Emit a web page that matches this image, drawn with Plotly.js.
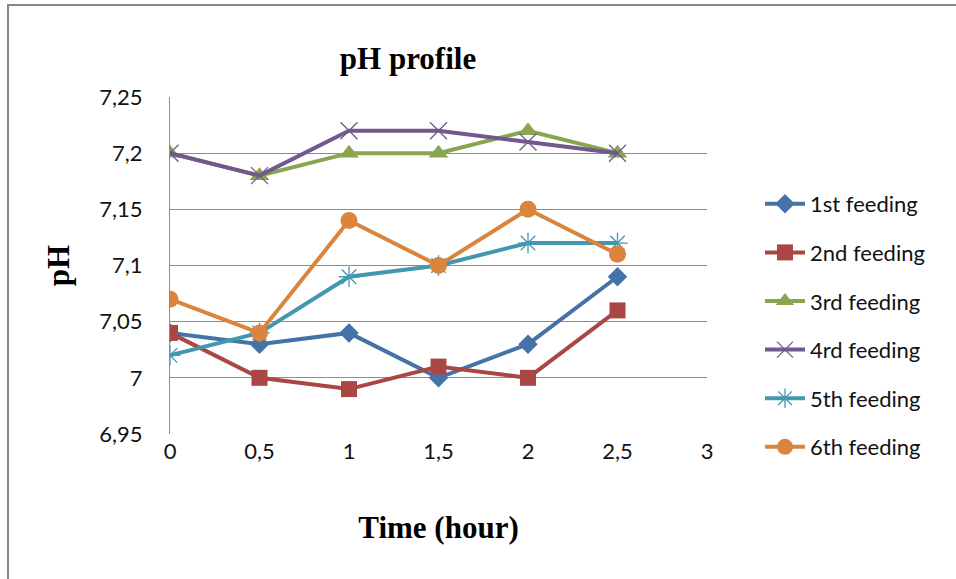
<!DOCTYPE html>
<html>
<head>
<meta charset="utf-8">
<script src="https://cdn.plot.ly/plotly-3.0.1.min.js"></script>
<style>
html,body{margin:0;padding:0;background:#fff;}
#chart{width:956px;height:579px;}
</style>
</head>
<body>
<div id="chart"></div>
<script>
const timeHours = [0, 0.5, 1, 1.5, 2, 2.5];
const feeding1 = [7.04, 7.03, 7.04, 7.00, 7.03, 7.09];
const feeding2 = [7.04, 7.00, 6.99, 7.01, 7.00, 7.06];
const feeding3 = [7.20, 7.18, 7.20, 7.20, 7.22, 7.20];
const feeding4 = [7.20, 7.18, 7.22, 7.22, 7.21, 7.20];
const feeding5 = [7.02, 7.04, 7.09, 7.10, 7.12, 7.12];
const feeding6 = [7.07, 7.04, 7.14, 7.10, 7.15, 7.11];
const seriesNames = ["1st feeding", "2nd feeding", "3rd feeding", "4rd feeding", "5th feeding", "6th feeding"];
const yTickVals = [6.95, 7, 7.05, 7.1, 7.15, 7.2, 7.25];
const yTickText = ["6,95", "7", "7,05", "7,1", "7,15", "7,2", "7,25"];
const xTickVals = [0, 0.5, 1, 1.5, 2, 2.5, 3];
const xTickText = ["0", "0,5", "1", "1,5", "2", "2,5", "3"];

const allSeries = [feeding1, feeding2, feeding3, feeding4, feeding5, feeding6];
const colors = ["#4572A7", "#AA4643", "#89A54E", "#71588F", "#4198AF", "#DB843D"];
const symbols = ["diamond", "square", "triangle-up", "x-thin-open", "asterisk-open", "circle"];
const sizes = [15, 16, 17, 17, 17, 17];

const traces = allSeries.map((ys, i) => ({
  x: timeHours, y: ys, name: seriesNames[i], type: "scatter", mode: "lines+markers",
  legendgroup: "g" + i,
  line: {color: colors[i], width: 4},
  marker: {symbol: symbols[i], size: sizes[i], color: colors[i],
           line: {color: colors[i], width: (i === 3 || i === 4) ? 1.3 : 0}}
}));

const W = 956, H = 579;
const m = {l: 170, r: 249, t: 97, b: 145};
const pw = W - m.l - m.r, ph = H - m.t - m.b;
const px2x = p => (p - m.l) / pw;
const py2y = p => (H - m.b - p) / ph;
const serif = "'Liberation Serif', 'Times New Roman', serif";
const sans = "Lato, 'Open Sans', sans-serif";

const layout = {
  width: W, height: H,
  margin: m,
  paper_bgcolor: "#fff", plot_bgcolor: "#fff",
  font: {family: sans, size: 22, color: "#111"},
  title: {text: "<b>pH profile</b>", font: {family: serif, size: 31, color: "#000"},
          x: 408 / W, xanchor: "center", y: 1 - 58 / H, yanchor: "middle"},
  xaxis: {
    range: [0, 3], tickvals: xTickVals, ticktext: xTickText,
    showgrid: false, zeroline: false, showline: false, ticks: "", ticklabelstandoff: 2,
    tickfont: {family: sans, size: 22, color: "#111"},
    title: {text: "<b>Time (hour)</b>", font: {family: serif, size: 31, color: "#000"}, standoff: 53},
    fixedrange: true
  },
  yaxis: {
    range: [6.95, 7.25], tickvals: yTickVals, ticktext: yTickText,
    showgrid: true, gridcolor: "#8c8c8c", gridwidth: 1, zeroline: false,
    showline: true, linecolor: "#8c8c8c", linewidth: 1, ticks: "", ticklabelstandoff: 22,
    tickfont: {family: sans, size: 22, color: "#111"},
    title: {text: "<b>pH</b>", font: {family: serif, size: 31, color: "#000"}, standoff: 20},
    fixedrange: true
  },
  legend: {
    x: px2x(760), xanchor: "left", y: py2y(183), yanchor: "top",
    font: {family: sans, size: 22, color: "#111"},
    tracegroupgap: 17, bgcolor: "rgba(0,0,0,0)", itemwidth: 40
  },
  showlegend: true,
  shapes: [
    {type: "line", xref: "paper", yref: "paper", x0: px2x(8), x1: px2x(8), y0: py2y(5), y1: py2y(600), line: {color: "#878787", width: 2}},
    {type: "line", xref: "paper", yref: "paper", x0: px2x(7), x1: px2x(960), y0: py2y(5), y1: py2y(5), line: {color: "#878787", width: 2}}
  ]
};

Plotly.newPlot("chart", traces, layout, {staticPlot: true, displayModeBar: false});
</script>
</body>
</html>
